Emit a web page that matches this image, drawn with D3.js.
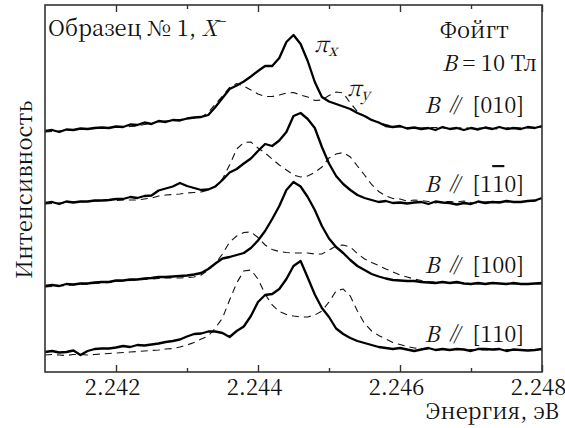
<!DOCTYPE html>
<html><head><meta charset="utf-8">
<script src="https://cdn.jsdelivr.net/npm/d3@7"></script>
<style>body{margin:0;background:#fff;}</style></head>
<body>
<svg id="chart" width="565" height="428"></svg>
<script>
// Energy grid (eV)
const energy = [2.2410,2.2411,2.2412,2.2413,2.2414,2.2415,2.2416,2.2417,2.2418,2.2419,
2.2420,2.2421,2.2422,2.2423,2.2424,2.2425,2.2426,2.2427,2.2428,2.2429,
2.2430,2.2431,2.2432,2.2433,2.2434,2.2435,2.2436,2.2437,2.2438,2.2439,
2.2440,2.2441,2.2442,2.2443,2.2444,2.2445,2.2446,2.2447,2.2448,2.2449,
2.2450,2.2451,2.2452,2.2453,2.2454,2.2455,2.2456,2.2457,2.2458,2.2459,
2.2460,2.2461,2.2462,2.2463,2.2464,2.2465,2.2466,2.2467,2.2468,2.2469,
2.2470,2.2471,2.2472,2.2473,2.2474,2.2475,2.2476,2.2477,2.2478,2.2479,
2.2480];

// Intensities (arb. units, spectra offset vertically)
const piX_010 = [241,242,240,242.5,242,243.5,243,244,244.5,244,
245.5,245,247.5,247,249.5,248,251,250,252,251.5,
253.5,254.5,255,257,265,274,283,286.5,290.5,295.5,
301,306,306,314,330,337,328,311,290,275,
270.5,268,265.5,263,259,256,252,249.5,246,245,
246,243.5,244.5,243,244,242,245,243,244,242,
244,242.5,244.5,243,245,243,244,243,245,244,
246];
const piY_010 = [240,240.5,241,242,242.5,242.5,242.5,243.5,244,244.5,
245,245,245.5,246,247.5,249,250.5,251,252,252.5,
253.5,254,255,259.5,268,276,284.5,288.5,286,282,
278,275.5,275.5,277,279,279.5,277,275,271.5,272,
276.5,280,279,269,260.5,256,252.5,249.5,247.5,245.5,
245,244.5,244,244,244.5,244.5,244,243.5,244,244.5,
243.5,244,244,243.5,243,244,244.5,244,244,244.5,
245];
const piX_1m10 = [169,170,168,170.5,169.5,170.5,170.5,171.5,171.5,172,
173,173,175,174,176,176.5,181.5,183.5,185.5,189,
186,184,182,182.5,185.5,192,199.5,203,208.5,213.5,
221,228,226,231.5,240,256,259,253,244,225,
208.5,196,188,182,177,174,172,170,171,169,
169.5,168.5,169.5,170,168,170.5,169.5,169,167.5,169,
168,170.5,169,170,169.5,171,170,170,171,171.5,
174];
const piY_1m10 = [168,168.5,169,169.5,170,170,170.5,171,171,171.5,
171.5,172,172,172,173,174,176,177,177.5,178,
179,179.5,180,182,186,193,207,223,229.5,230,
224,219,213,207,202,197,195,196,199.5,205,
214,218,219.5,215,206,197,187.5,180.5,176,173.5,
173,171,172,171.5,170.5,169,170.5,170.5,170,171,
169.5,169,170,170.5,170.5,170,170.5,170.5,170.5,171,
172];
const piX_100 = [86,87,86,88,87.5,88.5,88.5,89.5,90,90,
91.5,91.5,92.5,92.5,93.5,94,95,95,95.5,96,
96.5,97.5,99,103,108.5,113.5,115,117,119,124,
131.5,141,153,166,182,190,185.5,175,162,146,
133.5,125,119,112,106,102,98,95.5,93.5,92,
91.5,91,91,90,89.5,89,90,89,90,88.5,
88,89,88,89,88.5,88,89,88,88,88.5,
89];
const piY_100 = [85,85.5,86,86.5,87,87.5,88,88.5,89,89.5,
90.5,91,91.5,92,92.5,93,93.5,94,94,94,
94.5,95,97,102,108.5,118,130,136,139.5,140,
134.5,127,122.5,120.5,119.5,119,119,119,118,118,
122,126,127,125,118.5,113,109.5,106.5,103,100,
97,95,93,91.5,90.5,90,89.5,89,89,88.5,
88.5,88,88.5,89,88.5,88,88,88,88,88,
88];
const piX_110 = [20,21,19.5,20,21.5,17,21,23,23.5,23.5,
24.5,26,25,27,26.5,27.5,28.5,30,31,32.5,
35.5,38,38.5,40.5,40.5,39,35,41,45.5,56,
70,77,78,83,93,106,111,94.5,77.5,64,
55,43.5,38,34,31,29,27,25,24,23,
24,22.5,21,22.5,24,22,23,22,23,22.5,
21,23,23,22.5,23,21,22.5,22,21.5,22,
23];
const piY_110 = [17,17.5,17,16.5,17.5,17.5,17,17.5,18,18.5,
19,19.5,20,20.5,21,21.5,22,23,23.5,25,
27,29.5,33,36,44,54,72,89,101,102,
93,78,67,60.5,57.5,56,55,55,57,61,
70,81,83,76,61,48.5,41,36.5,33,29.5,
27.5,25.5,24,23.5,23,22.5,22,22.5,22.5,22.5,
22.5,22,22,22,22.5,22.5,22,22,22,22,
22];

const majorTicks = [2.242, 2.244, 2.246, 2.248];
const minorTicks = [2.243, 2.245, 2.247];
const tickLabels = ["2.242", "2.244", "2.246", "2.248"];

const spectra = [
  {solid: piX_010, dashed: piY_010},
  {solid: piX_1m10, dashed: piY_1m10},
  {solid: piX_100, dashed: piY_100},
  {solid: piX_110, dashed: piY_110}
];

const FONT = "Noto Serif CJK SC";
const svg = d3.select("#chart");
const L = 45, R = 542, T = 5, B = 372;
const x = d3.scaleLinear().domain([2.241, 2.248]).range([L, R]);
const y = d3.scaleLinear().domain([0, 367]).range([B, T]);

const line = d3.line().x((d, i) => x(energy[i])).y(d => y(d));

const g = svg.append("g");
spectra.forEach(s => {
  g.append("path").attr("d", line(s.dashed)).attr("fill", "none")
    .attr("stroke", "#111").attr("stroke-width", 1.1).attr("stroke-dasharray", "7,5");
  g.append("path").attr("d", line(s.solid)).attr("fill", "none")
    .attr("stroke", "#000").attr("stroke-width", 2.3).attr("stroke-linejoin", "round");
});

// axes
const fmt = (d) => tickLabels[majorTicks.indexOf(d)];
const axB = svg.append("g").attr("transform", `translate(0,${B})`)
  .call(d3.axisBottom(x).tickValues(majorTicks).tickSize(-7).tickPadding(7).tickFormat(fmt));
const axBm = svg.append("g").attr("transform", `translate(0,${B})`)
  .call(d3.axisBottom(x).tickValues(minorTicks).tickSize(-4).tickFormat(""));
const axT = svg.append("g").attr("transform", `translate(0,${T})`)
  .call(d3.axisTop(x).tickValues(majorTicks).tickSize(-7).tickFormat(""));
const axTm = svg.append("g").attr("transform", `translate(0,${T})`)
  .call(d3.axisTop(x).tickValues(minorTicks).tickSize(-4).tickFormat(""));
[axB, axBm, axT, axTm].forEach(a => {
  a.select(".domain").remove();
  a.attr("font-family", null);
  a.selectAll("line").attr("stroke", "#333").attr("stroke-width", 1.4);
});
axB.selectAll("text").style("font-family", FONT).attr("font-size", 22)
  .attr("fill", "#111").attr("dx", -4);

svg.append("rect").attr("x", L).attr("y", T).attr("width", R - L).attr("height", B - T)
  .attr("fill", "none").attr("stroke", "#333").attr("stroke-width", 1.6);

// labels
function txt(xx, yy, anchor) {
  return svg.append("text").attr("x", xx).attr("y", yy).attr("text-anchor", anchor || "start")
    .style("font-family", FONT).attr("font-size", 22).attr("fill", "#111");
}
const t1 = txt(48, 36);
t1.append("tspan").text("Образец № 1, ");
t1.append("tspan").attr("font-style", "italic").text("X");
t1.append("tspan").attr("font-size", 16).attr("dy", -9).text("−");

txt(509, 38, "end").text("Фойгт");
const tb = txt(537, 71, "end");
tb.append("tspan").attr("font-style", "italic").text("B");
tb.append("tspan").text(" = 10 Тл");

const px = txt(314, 52);
px.append("tspan").attr("font-style", "italic").text("π");
px.append("tspan").attr("font-style", "italic").attr("font-size", 16).attr("dy", 4).text("x");
const py = txt(347, 96);
py.append("tspan").attr("font-style", "italic").text("π");
py.append("tspan").attr("font-style", "italic").attr("font-size", 16).attr("dy", 4).text("y");

function bLabel(yy, parts) {
  const t = txt(524, yy, "end");
  t.append("tspan").attr("font-style", "italic").text("B");
  t.append("tspan").text(" ∥ ");
  parts.forEach(p => {
    const s = t.append("tspan").text(p.t);
    if (p.bar) s.attr("text-decoration", "overline");
  });
}
bLabel(113, [{t: "[010]"}]);
bLabel(192, [{t: "[1"}, {t: "1", bar: true}, {t: "0]"}]);
bLabel(273, [{t: "[100]"}]);
bLabel(342, [{t: "[110]"}]);

txt(559, 419, "end").text("Энергия, эВ");
svg.append("text").attr("transform", "translate(32,190) rotate(-90)").attr("text-anchor", "middle")
  .style("font-family", FONT).attr("font-size", 22).attr("fill", "#111").text("Интенсивность");
</script>
</body></html>
